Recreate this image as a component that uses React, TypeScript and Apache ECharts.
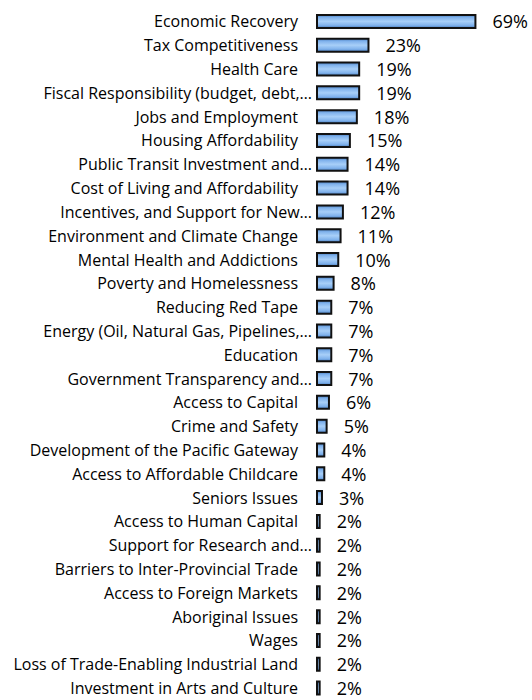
import React, { useEffect, useRef } from "react";
import * as echarts from "echarts";

const categories: string[] = [
  "Economic Recovery",
  "Tax Competitiveness",
  "Health Care",
  "Fiscal Responsibility (budget, debt,…",
  "Jobs and Employment",
  "Housing Affordability",
  "Public Transit Investment and…",
  "Cost of Living and Affordability",
  "Incentives, and Support for New…",
  "Environment and Climate Change",
  "Mental Health and Addictions",
  "Poverty and Homelessness",
  "Reducing Red Tape",
  "Energy (Oil, Natural Gas, Pipelines,…",
  "Education",
  "Government Transparency and…",
  "Access to Capital",
  "Crime and Safety",
  "Development of the Pacific Gateway",
  "Access to Affordable Childcare",
  "Seniors Issues",
  "Access to Human Capital",
  "Support for Research and…",
  "Barriers to Inter-Provincial Trade",
  "Access to Foreign Markets",
  "Aboriginal Issues",
  "Wages",
  "Loss of Trade-Enabling Industrial Land",
  "Investment in Arts and Culture",
];

const values: number[] = [
  69, 23, 19, 19, 18, 15, 14, 14, 12, 11, 10, 8, 7, 7, 7, 7, 6, 5, 4, 4, 3, 2, 2, 2, 2, 2, 2, 2, 2,
];

export default function App() {
  const ref = useRef<HTMLDivElement>(null);
  useEffect(() => {
    document.body.style.margin = "0";
    if (!ref.current) return;
    const chart = echarts.init(ref.current, null, { renderer: "svg" });
    const font = "'Open Sans', sans-serif";
    chart.setOption({
      animation: false,
      grid: { left: 316, top: 9.5, width: 186, height: 695, containLabel: false },
      xAxis: {
        type: "value",
        min: 0,
        max: 80,
        show: false,
      },
      yAxis: {
        type: "category",
        data: categories,
        inverse: true,
        axisLine: { show: false },
        axisTick: { show: false },
        axisLabel: {
          margin: 4,
          formatter: (v: string) => (v.endsWith("…") ? `{t|${v}}` : `{n|${v}}`),
          rich: {
            n: { fontFamily: font, fontSize: 16, color: "#000", padding: [0, 14, 0, 0] },
            t: { fontFamily: font, fontSize: 16, color: "#000", padding: [0, 0, 0, 0] },
          },
        },
      },
      series: [
        {
          type: "bar",
          data: values,
          barWidth: 15,
          barMinHeight: 3,
          itemStyle: {
            borderColor: "#111",
            borderWidth: 2,
            color: new echarts.graphic.LinearGradient(0, 0, 0, 1, [
              { offset: 0, color: "#4a7fc0" },
              { offset: 0.2, color: "#80b2ec" },
              { offset: 0.5, color: "#a8cff8" },
              { offset: 0.8, color: "#80b2ec" },
              { offset: 1, color: "#4a7fc0" },
            ]),
          },
          label: {
            show: true,
            position: "right",
            distance: 16,
            formatter: "{c}%",
            fontFamily: font,
            fontSize: 18,
            color: "#000",
          },
        },
      ],
    });
    return () => chart.dispose();
  }, []);
  return <div ref={ref} style={{ width: 532, height: 700 }} />;
}
